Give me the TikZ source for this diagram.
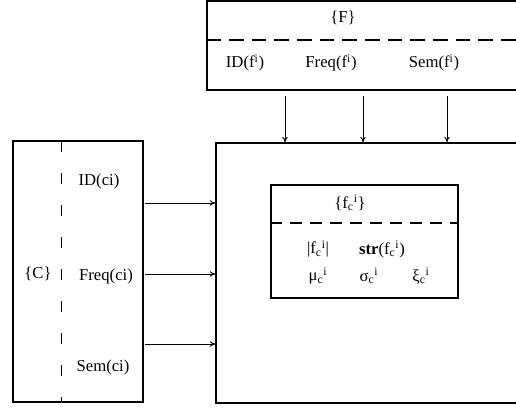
\documentclass[tikz,border=0pt]{standalone}
\usepackage{fontspec}
\setmainfont{Liberation Serif}
\usetikzlibrary{arrows.meta}
\tikzset{
  box/.style={draw, line width=1.1pt, rectangle, inner sep=0pt},
  lbl/.style={font=\fontsize{12.5}{14}\selectfont, inner sep=1pt},
  sep/.style={line width=0.9pt, dash pattern=on 11pt off 6pt},
  vsep/.style={line width=0.7pt, dash pattern=on 8pt off 16pt},
  arr/.style={line width=0.7pt, -{To[length=4pt,width=4pt]}}
}
\begin{document}
\begin{tikzpicture}[x=0.75pt,y=-0.75pt]
\useasboundingbox (0,0) rectangle (516,408);
\clip (0,0) rectangle (516,408);
% boxes
\node[box, minimum width=323*0.75pt, minimum height=89*0.75pt] (F) at (368.5,45.5) {};
\node[box, minimum width=314*0.75pt, minimum height=260*0.75pt] (M) at (373,273) {};
\node[box, line width=0.8pt, minimum width=130*0.75pt, minimum height=261*0.75pt] (C) at (78,271.5) {};
\node[box, line width=0.9pt, minimum width=187*0.75pt, minimum height=113*0.75pt] (I) at (364.5,241.5) {};
% F box content
\node[lbl] (Ft) at (343,18) {\{F\}};
\draw[sep] (F.west |- 0,40) -- (F.east |- 0,40);
\node[lbl] (Fid) at (245,63) {ID(f\textsuperscript{i})};
\node[lbl] (Ffr) at (331,63) {Freq(f\textsuperscript{i})};
\node[lbl] (Fse) at (434,63) {Sem(f\textsuperscript{i})};
% C box content
\draw[vsep] (61,141) -- (61,402);
\node[lbl] (Ct) at (38,274) {\{C\}};
\node[lbl] (Cid) at (99,181) {ID(ci)};
\node[lbl] (Cfr) at (106,276) {Freq(ci)};
\node[lbl] (Cse) at (103,367) {Sem(ci)};
% inner box content
\node[lbl] (It) at (350,203) {\{f\textsubscript{c}\textsuperscript{i}\}};
\draw[sep, line width=0.8pt, dash pattern=on 9pt off 6pt] (I.west |- 0,223) -- (I.east |- 0,223);
\node[lbl] (I1) at (318,249) {|f\textsubscript{c}\textsuperscript{i}|};
\node[lbl] (I2) at (382,249) {\textbf{str}(f\textsubscript{c}\textsuperscript{i})};
\node[lbl] (I3) at (318,276) {μ\textsubscript{c}\textsuperscript{i}};
\node[lbl] (I4) at (369,276) {σ\textsubscript{c}\textsuperscript{i}};
\node[lbl] (I5) at (421,276) {ξ\textsubscript{c}\textsuperscript{i}};
% arrows from F to M
\coordinate (t1) at (285,96);
\coordinate (t2) at (363,96);
\coordinate (t3) at (447,96);
\draw[arr] (t1) -- (t1 |- M.north);
\draw[arr] (t2) -- (t2 |- M.north);
\draw[arr] (t3) -- (t3 |- M.north);
% arrows from C to M
\coordinate (l1) at (145,203);
\coordinate (l2) at (145,274);
\coordinate (l3) at (145,344);
\draw[arr] (l1) -- (l1 -| M.west);
\draw[arr] (l2) -- (l2 -| M.west);
\draw[arr] (l3) -- (l3 -| M.west);
\end{tikzpicture}
\end{document}
